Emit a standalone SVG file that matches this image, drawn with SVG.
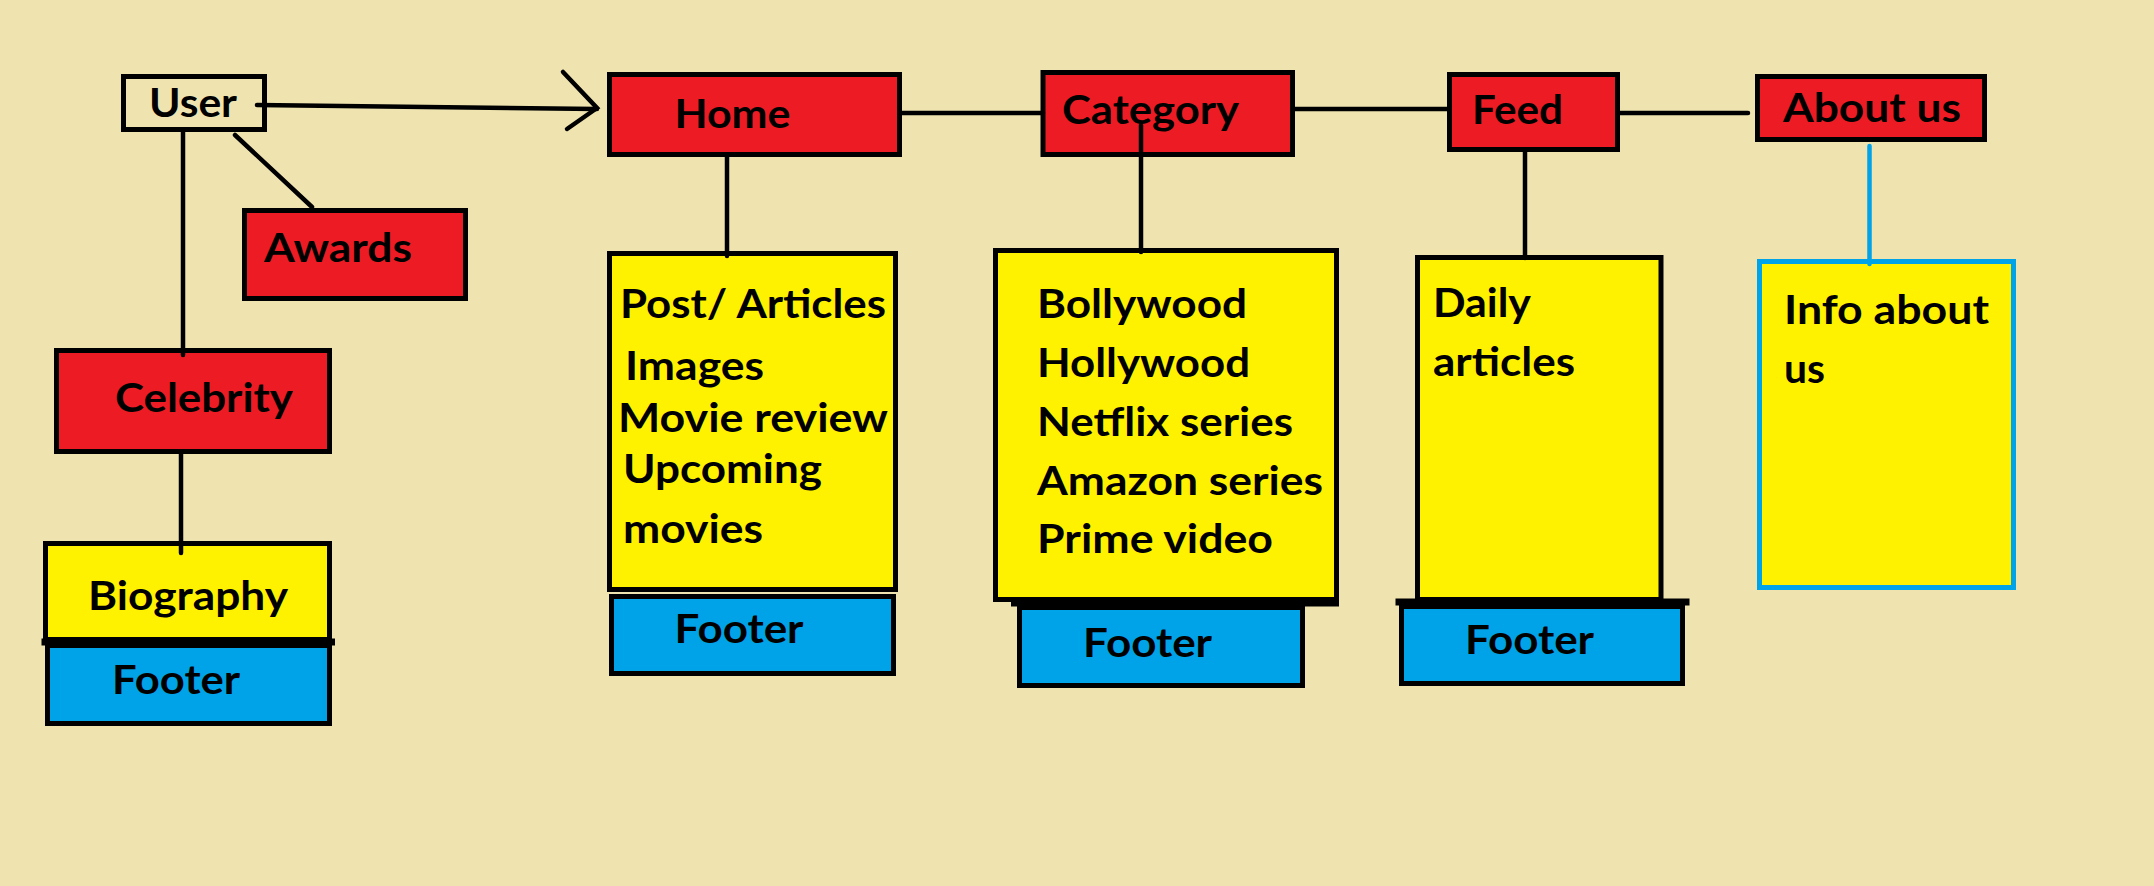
<svg xmlns="http://www.w3.org/2000/svg" width="2154" height="886" viewBox="0 0 2154 886">
<style>
.box{stroke:#000;stroke-width:5}
.red{fill:#ED1C24}
.yel{fill:#FFF200}
.blu{fill:#00A2E8}
.none{fill:none}
.t{font-family:Lato,"Liberation Sans",sans-serif;font-weight:bold;font-size:41px;fill:#000}
.c{stroke:#000;stroke-width:4.5;stroke-linecap:round;fill:none}
.thick{stroke:#000;stroke-width:7}
</style>
<rect x="0" y="0" width="2154" height="886" fill="#EFE4B0"/>
<g id="user"><rect class="box none" x="123.5" y="76.5" width="141" height="53"/><text class="t" x="149" y="117" textLength="88" lengthAdjust="spacingAndGlyphs">User</text></g>
<g id="awards"><rect class="box red" x="244.5" y="210.5" width="221" height="88"/><text class="t" x="264" y="262" textLength="148" lengthAdjust="spacingAndGlyphs">Awards</text></g>
<g id="celebrity"><rect class="box red" x="56.5" y="350.5" width="273" height="101"/><text class="t" x="115" y="412" textLength="178" lengthAdjust="spacingAndGlyphs">Celebrity</text></g>
<g id="biography"><rect class="box yel" x="45.5" y="543.5" width="284" height="96"/><text class="t" x="88" y="610" textLength="200" lengthAdjust="spacingAndGlyphs">Biography</text></g>
<g id="footer-celebrity"><rect class="box blu" x="47.5" y="645.5" width="282" height="78"/><line class="thick" x1="41.5" y1="642" x2="335" y2="642"/><text class="t" x="112" y="694" textLength="128" lengthAdjust="spacingAndGlyphs">Footer</text></g>
<g id="home"><rect class="box red" x="609.5" y="74.5" width="290" height="80"/><text class="t" x="674.5" y="128" textLength="116" lengthAdjust="spacingAndGlyphs">Home</text></g>
<g id="category"><rect class="box red" x="1043" y="72.5" width="249.5" height="82"/><text class="t" x="1062" y="124" textLength="177" lengthAdjust="spacingAndGlyphs">Category</text></g>
<g id="feed"><rect class="box red" x="1449.5" y="74.5" width="168" height="75"/><text class="t" x="1472" y="124" textLength="91" lengthAdjust="spacingAndGlyphs">Feed</text></g>
<g id="about"><rect class="box red" x="1757.5" y="76.5" width="227" height="63"/><text class="t" x="1783" y="122" textLength="178" lengthAdjust="spacingAndGlyphs">About us</text></g>
<g id="home-content"><rect class="box yel" x="609.5" y="253.5" width="286" height="336"/>
<text class="t" x="620" y="318" textLength="266" lengthAdjust="spacingAndGlyphs">Post/ Articles</text>
<text class="t" x="625" y="380" textLength="139" lengthAdjust="spacingAndGlyphs">Images</text>
<text class="t" x="618" y="432" textLength="270" lengthAdjust="spacingAndGlyphs">Movie review</text>
<text class="t" x="623" y="483" textLength="199" lengthAdjust="spacingAndGlyphs">Upcoming</text>
<text class="t" x="623" y="543" textLength="140" lengthAdjust="spacingAndGlyphs">movies</text></g>
<g id="footer-home"><rect class="box blu" x="611.5" y="596.5" width="282" height="77"/><text class="t" x="674.5" y="643" textLength="129" lengthAdjust="spacingAndGlyphs">Footer</text></g>
<g id="category-content"><rect class="box yel" x="995.5" y="250.5" width="341" height="349"/>
<text class="t" x="1037" y="318" textLength="210" lengthAdjust="spacingAndGlyphs">Bollywood</text>
<text class="t" x="1037" y="377" textLength="213" lengthAdjust="spacingAndGlyphs">Hollywood</text>
<text class="t" x="1037" y="436" textLength="256" lengthAdjust="spacingAndGlyphs">Netflix series</text>
<text class="t" x="1037" y="495" textLength="286" lengthAdjust="spacingAndGlyphs">Amazon series</text>
<text class="t" x="1037" y="553" textLength="236" lengthAdjust="spacingAndGlyphs">Prime video</text></g>
<g id="footer-category"><rect class="box blu" x="1019.5" y="607.5" width="283" height="78"/><line class="thick" x1="1011" y1="603" x2="1339" y2="603"/><text class="t" x="1083" y="657" textLength="129" lengthAdjust="spacingAndGlyphs">Footer</text></g>
<g id="feed-content"><rect class="box yel" x="1417.5" y="257.5" width="243.5" height="342"/>
<text class="t" x="1433" y="317" textLength="98" lengthAdjust="spacingAndGlyphs">Daily</text>
<text class="t" x="1433" y="376" textLength="142" lengthAdjust="spacingAndGlyphs">articles</text></g>
<g id="footer-feed"><rect class="box blu" x="1401.5" y="606.5" width="281" height="77"/><line class="thick" x1="1395.5" y1="602" x2="1689.5" y2="602"/><text class="t" x="1465" y="654" textLength="129" lengthAdjust="spacingAndGlyphs">Footer</text></g>
<g id="about-content"><rect x="1759.5" y="261.5" width="254" height="326" fill="#FFF200" stroke="#00A2E8" stroke-width="5"/>
<text class="t" x="1784" y="324" textLength="205" lengthAdjust="spacingAndGlyphs">Info about</text>
<text class="t" x="1784" y="383" textLength="41" lengthAdjust="spacingAndGlyphs">us</text></g>
<g id="connectors">
<line class="c" x1="257" y1="105" x2="597" y2="109"/>
<path class="c" d="M563 72 L597 108 L567 129"/>
<line class="c" x1="235" y1="135" x2="312" y2="207"/>
<line class="c" x1="183" y1="132" x2="183" y2="355"/>
<line class="c" x1="181" y1="454" x2="181" y2="553"/>
<line class="c" x1="902" y1="113" x2="1043" y2="113"/>
<line class="c" x1="1295" y1="109" x2="1449" y2="109"/>
<line class="c" x1="1620" y1="113" x2="1748" y2="113"/>
<line class="c" x1="727" y1="157" x2="727" y2="256"/>
<line class="c" x1="1141" y1="125" x2="1141" y2="252"/>
<line class="c" x1="1525" y1="152" x2="1525" y2="258"/>
<line x1="1869.5" y1="146" x2="1869.5" y2="264" stroke="#00A2E8" stroke-width="4.5" stroke-linecap="round"/>
</g>
</svg>
